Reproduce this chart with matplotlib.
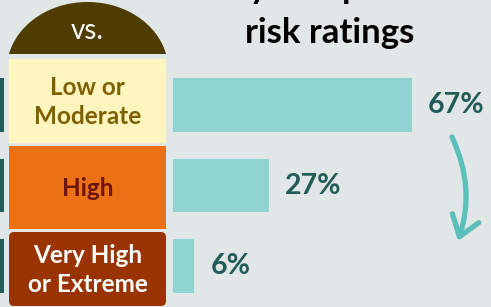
import matplotlib
matplotlib.use("Agg")
import matplotlib.pyplot as plt
from matplotlib.patches import FancyBboxPatch, Polygon, FancyArrowPatch
import numpy as np

# Data
categories = ["Low or\nModerate", "High", "Very High\nor Extreme"]
shares = [67, 27, 6]
box_colors = ["#FFF5BF", "#EC7115", "#993300"]
text_colors = ["#7F6000", "#6B1410", "#FFFFFF"]
left_stubs = [1, 1, 1]  # ends of the cut-off bars on the far left

BG = "#E1E7E7"
BAR = "#8FD4D2"
LABEL = "#225C58"
ARROW = "#5BBFBC"
DOME = "#4E3C00"
FONT = "Lato"

fig = plt.figure(figsize=(4.91, 3.07), dpi=100)
fig.patch.set_facecolor(BG)

# Background axes in pixel coordinates for the decorations
bg = fig.add_axes([0, 0, 1, 1])
bg.set_xlim(0, 491)
bg.set_ylim(307, 0)
bg.axis("off")

# Dome with "vs."
t = np.linspace(0, np.pi, 200)
xs = 87.5 + 80.8 * np.cos(t)
ys = 70 - 68 * np.sin(t)
keep = ys <= 54
pts = np.column_stack([xs[keep], ys[keep]])
pts = np.vstack([[166, 54], pts, [9, 54]])
bg.add_patch(Polygon(pts, closed=True, facecolor=DOME, edgecolor="none"))
bg.text(87.5, 31, "vs.", color="white", fontsize=20, family=FONT,
        ha="center", va="center")

# Category boxes
box_top = [59, 146, 232]
box_bot = [143, 229, 306]
for i, cat in enumerate(categories):
    r = 5 if i == 2 else 0
    bg.add_patch(FancyBboxPatch((9, box_top[i]), 157, box_bot[i] - box_top[i],
                                boxstyle=f"round,pad=0,rounding_size={r}",
                                facecolor=box_colors[i], edgecolor="none"))
    bg.text(87.5, (box_top[i] + box_bot[i]) / 2 + 1, cat, color=text_colors[i],
            fontsize=17.5, fontweight="bold", family=FONT, ha="center",
            va="center", linespacing=1.35)

# Title (first line mostly cut off by the top edge)
bg.text(330, -2, "Key component", fontsize=25, fontweight="bold", family=FONT,
        ha="center", va="baseline", color="black")
bg.text(330, 43, "risk ratings", fontsize=25, fontweight="bold", family=FONT,
        ha="center", va="baseline", color="black")

# Curved arrow
arr = FancyArrowPatch((452, 137), (458, 241),
                      connectionstyle="arc3,rad=-0.2",
                      arrowstyle="->,head_length=7,head_width=5",
                      color=ARROW, lw=3.8, capstyle="round",
                      joinstyle="round", mutation_scale=2, shrinkA=0,
                      shrinkB=0)
bg.add_patch(arr)

# Bars: 0% at x=173px, 1% = 3.57px; rows 80.5px apart
px_per = 3.57
ax = fig.add_axes([173 / 491, 1 - 306.25 / 307, 318 / 491, 241.5 / 307])
ax.set_facecolor("none")
y = np.arange(len(shares))
ax.barh(y, shares, height=0.66, color=BAR)
ax.set_xlim(0, 318 / px_per)
ax.set_ylim(2.5, -0.5)
ax.axis("off")
for yi, v in zip(y, shares):
    ax.annotate(f"{v}%", (v, yi), xytext=(11.5, 0), textcoords="offset points",
                ha="left", va="center", fontsize=20.5, fontweight="bold",
                family=FONT, color=LABEL)

# Cut-off bars at the left edge
ax2 = fig.add_axes([0, 1 - 306.25 / 307, 4.3 / 491, 241.5 / 307])
ax2.set_facecolor("none")
ax2.barh(y, left_stubs, height=0.66, color=LABEL)
ax2.set_xlim(0, 1)
ax2.set_ylim(2.5, -0.5)
ax2.axis("off")

fig.savefig("out.png", dpi=100, facecolor=BG)
